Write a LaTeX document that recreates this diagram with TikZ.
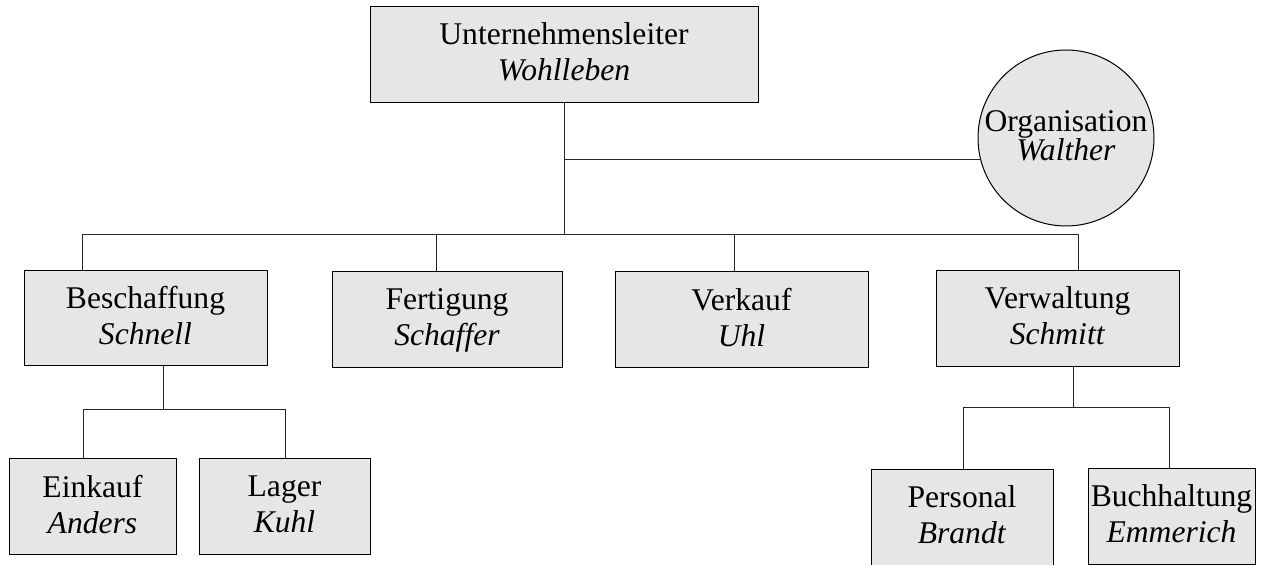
\documentclass[tikz,border=0pt]{standalone}
\usepackage{fontspec}
\setmainfont{Liberation Serif}
\definecolor{boxgray}{RGB}{230,230,230}
\newcommand{\unitstrutA}{\rule[-3pt]{0pt}{13pt}}

\begin{document}
\begin{tikzpicture}[x=0.5pt, y=-0.5pt,
    unit/.style={draw=black, fill=boxgray, rectangle, inner sep=0pt, line width=0.5pt,
                 align=center, font=\fontsize{15.8pt}{18pt}\selectfont,
                 execute at begin node=\unitstrutA, execute at end node=\unitstrutA},
    link/.style={black!85, line width=0.5pt}]
    \useasboundingbox (0,0) rectangle (1265,565);

    % Head
    \node[unit, minimum width=194pt, minimum height=48pt] (boss) at (564,55) {Unternehmensleiter\\\textit{Wohlleben}};

    % Staff position
    \node[circle, draw=black, fill=boxgray, line width=0.5pt, minimum size=88pt, inner sep=0pt] (org) at (1066,138) {};
    \node[align=center, font=\fontsize{15.8pt}{14.5pt}\selectfont] (orgtext) at (1066,136) {Organisation\\\textit{Walther}};

    % Departments
    \node[unit, minimum width=121.5pt, minimum height=47.5pt] (besch) at (145.5,318.5) {Beschaffung\\\textit{Schnell}};
    \node[unit, minimum width=115pt, minimum height=48pt] (fert) at (447,320) {Fertigung\\\textit{Schaffer}};
    \node[unit, minimum width=126.5pt, minimum height=48pt] (verk) at (741.5,320) {Verkauf\\\textit{Uhl}};
    \node[unit, minimum width=121.5pt, minimum height=48pt] (verw) at (1057.5,319) {Verwaltung\\\textit{Schmitt}};

    % Sub-departments
    \node[unit, minimum width=83.5pt, minimum height=48pt] (eink) at (92.5,507) {Einkauf\\\textit{Anders}};
    \node[unit, minimum width=85.5pt, minimum height=48pt] (lager) at (284.5,507) {Lager\\\textit{Kuhl}};
    \node[unit, minimum width=91pt, minimum height=48pt] (pers) at (962,518) {Personal\\\textit{Brandt}};
    \node[unit, minimum width=83.5pt, minimum height=48pt] (buch) at (1171.5,517) {Buchhaltung\\\textit{Emmerich}};

    % Main lines
    \coordinate (bus) at (564,235);
    \coordinate (busL) at (82,235);
    \coordinate (busR) at (1078,235);
    \coordinate (orgjoint) at (564,160);
    \coordinate (dFert) at (436,235);
    \coordinate (dVerk) at (734,235);
    \draw[link] (boss.south) -- (bus);
    \draw[link] (orgjoint) -- (orgjoint -| org.195);
    \draw[link] (busL |- besch.north) -- (busL) -- (busR) -- (busR |- verw.north);
    \draw[link] (dFert) -- (dFert |- fert.north);
    \draw[link] (dVerk) -- (dVerk |- verk.north);

    % Beschaffung lines
    \coordinate (beschjoint) at (163,410);
    \coordinate (einkjoint) at (83,410);
    \coordinate (lagerjoint) at (285,410);
    \draw[link] (beschjoint |- besch.south) -- (beschjoint);
    \draw[link] (einkjoint |- eink.north) -- (einkjoint) -- (lagerjoint) -- (lagerjoint |- lager.north);

    % Verwaltung lines
    \coordinate (verwjoint) at (1073,408);
    \coordinate (persjoint) at (963,408);
    \coordinate (buchjoint) at (1169,408);
    \draw[link] (verwjoint |- verw.south) -- (verwjoint);
    \draw[link] (persjoint |- pers.north) -- (persjoint) -- (buchjoint) -- (buchjoint |- buch.north);
\end{tikzpicture}
\end{document}
